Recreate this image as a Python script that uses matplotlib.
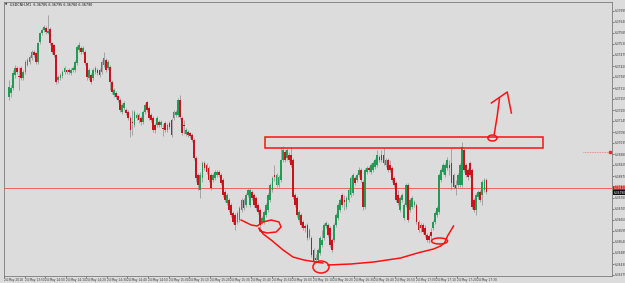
import matplotlib
matplotlib.use("Agg")
import matplotlib.pyplot as plt
from matplotlib.patches import Rectangle, Ellipse
import numpy as np

# === OHLC, USDCNH M1 ===
opens = [6.37265, 6.37285, 6.37310, 6.37375, 6.37410, 6.37370, 6.37410, 6.37360, 6.37390, 6.37425,
         6.37440, 6.37460, 6.37490, 6.37485, 6.37440, 6.37540, 6.37585, 6.37600, 6.37610, 6.37585,
         6.37605, 6.37535, 6.37525, 6.37475, 6.37350, 6.37360, 6.37370, 6.37390, 6.37400, 6.37400,
         6.37385, 6.37400, 6.37400, 6.37435, 6.37500, 6.37510, 6.37490, 6.37490, 6.37435, 6.37360,
         6.37375, 6.37360, 6.37390, 6.37400, 6.37400, 6.37390, 6.37425, 6.37450, 6.37410, 6.37415,
         6.37340, 6.37275, 6.37285, 6.37270, 6.37250, 6.37190, 6.37210, 6.37200, 6.37190, 6.37160,
         6.37140, 6.37125, 6.37160, 6.37175, 6.37160, 6.37140, 6.37190, 6.37240, 6.37210, 6.37175,
         6.37160, 6.37125, 6.37125, 6.37140, 6.37125, 6.37110, 6.37135, 6.37100, 6.37135, 6.37150,
         6.37160, 6.37175, 6.37175, 6.37250, 6.37160, 6.37125, 6.37080, 6.37090, 6.37085, 6.37075,
         6.37050, 6.36960, 6.36875, 6.36800, 6.36860, 6.36935, 6.36925, 6.36910, 6.36875, 6.36850,
         6.36860, 6.36875, 6.36890, 6.36875, 6.36850, 6.36790, 6.36735, 6.36750, 6.36725, 6.36685,
         6.36675, 6.36640, 6.36650, 6.36700, 6.36750, 6.36725, 6.36775, 6.36725, 6.36790, 6.36775,
         6.36760, 6.36725, 6.36700, 6.36640, 6.36640, 6.36675, 6.36700, 6.36750, 6.36800, 6.36875,
         6.36825, 6.36825, 6.36850, 6.36950, 6.36990, 6.36960, 6.36975, 6.36975, 6.36950, 6.36775,
         6.36760, 6.36650, 6.36675, 6.36640, 6.36620, 6.36625, 6.36565, 6.36560, 6.36500, 6.36460,
         6.36450, 6.36485, 6.36525, 6.36560, 6.36620, 6.36625, 6.36610, 6.36550, 6.36550, 6.36625,
         6.36660, 6.36700, 6.36775, 6.36750, 6.36715, 6.36750, 6.36775, 6.36785, 6.36860, 6.36850,
         6.36875, 6.36900, 6.36840, 6.36715, 6.36890, 6.36910, 6.36890, 6.36900, 6.36915, 6.36925,
         6.36965, 6.36975, 6.36975, 6.36925, 6.36950, 6.36925, 6.36910, 6.36860, 6.36835, 6.36775,
         6.36700, 6.36750, 6.36660, 6.36725, 6.36825, 6.36700, 6.36715, 6.36725, 6.36725, 6.36640,
         6.36625, 6.36625, 6.36610, 6.36575, 6.36570, 6.36590, 6.36610, 6.36640, 6.36675, 6.36690,
         6.36850, 6.36890, 6.36875, 6.36910, 6.36925, 6.36935, 6.36875, 6.36825, 6.36825, 6.36825,
         6.36825, 6.37000, 6.36925, 6.36900, 6.36935, 6.36900, 6.36750, 6.36700, 6.36765, 6.36790,
         6.36775, 6.36800, 6.36850]
highs = [6.37350, 6.37325, 6.37400, 6.37425, 6.37420, 6.37415, 6.37420, 6.37400, 6.37450, 6.37460,
         6.37475, 6.37500, 6.37500, 6.37490, 6.37540, 6.37590, 6.37610, 6.37625, 6.37620, 6.37675,
         6.37615, 6.37540, 6.37530, 6.37480, 6.37375, 6.37385, 6.37400, 6.37420, 6.37405, 6.37410,
         6.37410, 6.37420, 6.37450, 6.37525, 6.37540, 6.37520, 6.37520, 6.37500, 6.37440, 6.37410,
         6.37385, 6.37410, 6.37420, 6.37410, 6.37410, 6.37450, 6.37490, 6.37460, 6.37450, 6.37425,
         6.37350, 6.37310, 6.37295, 6.37275, 6.37260, 6.37235, 6.37245, 6.37210, 6.37200, 6.37170,
         6.37200, 6.37200, 6.37185, 6.37185, 6.37170, 6.37200, 6.37235, 6.37245, 6.37220, 6.37185,
         6.37170, 6.37135, 6.37170, 6.37150, 6.37150, 6.37130, 6.37145, 6.37135, 6.37145, 6.37160,
         6.37200, 6.37200, 6.37260, 6.37275, 6.37170, 6.37150, 6.37110, 6.37100, 6.37090, 6.37085,
         6.37060, 6.36970, 6.36885, 6.36890, 6.36945, 6.36945, 6.36935, 6.36920, 6.36885, 6.36885,
         6.36900, 6.36900, 6.36900, 6.36885, 6.36860, 6.36800, 6.36785, 6.36760, 6.36735, 6.36695,
         6.36685, 6.36695, 6.36720, 6.36760, 6.36760, 6.36785, 6.36810, 6.36810, 6.36800, 6.36785,
         6.36770, 6.36735, 6.36710, 6.36670, 6.36700, 6.36735, 6.36785, 6.36835, 6.36870, 6.36925,
         6.36885, 6.36875, 6.37015, 6.37020, 6.37000, 6.37010, 6.36990, 6.37015, 6.36960, 6.36785,
         6.36770, 6.36700, 6.36685, 6.36650, 6.36630, 6.36635, 6.36610, 6.36570, 6.36510, 6.36480,
         6.36510, 6.36570, 6.36600, 6.36635, 6.36645, 6.36635, 6.36620, 6.36560, 6.36635, 6.36685,
         6.36735, 6.36760, 6.36785, 6.36775, 6.36770, 6.36810, 6.36870, 6.36885, 6.36870, 6.36885,
         6.36915, 6.36910, 6.36850, 6.36910, 6.36920, 6.36920, 6.36935, 6.36945, 6.36960, 6.37000,
         6.36975, 6.37000, 6.37010, 6.36960, 6.36960, 6.36950, 6.36920, 6.36870, 6.36845, 6.36800,
         6.36770, 6.36785, 6.36735, 6.36835, 6.36835, 6.36760, 6.36770, 6.36750, 6.36735, 6.36650,
         6.36635, 6.36635, 6.36625, 6.36585, 6.36580, 6.36610, 6.36650, 6.36695, 6.36720, 6.36885,
         6.36910, 6.36935, 6.36935, 6.36965, 6.36950, 6.37010, 6.36885, 6.36850, 6.36885, 6.36935,
         6.37040, 6.37010, 6.36935, 6.36910, 6.36945, 6.36910, 6.36760, 6.36785, 6.36800, 6.36800,
         6.36850, 6.36860, 6.36860]
lows = [6.37250, 6.37265, 6.37300, 6.37360, 6.37380, 6.37300, 6.37350, 6.37350, 6.37380, 6.37420,
        6.37430, 6.37450, 6.37465, 6.37430, 6.37430, 6.37530, 6.37575, 6.37590, 6.37580, 6.37580,
        6.37525, 6.37480, 6.37465, 6.37330, 6.37335, 6.37350, 6.37360, 6.37380, 6.37380, 6.37380,
        6.37375, 6.37390, 6.37390, 6.37425, 6.37490, 6.37480, 6.37480, 6.37425, 6.37350, 6.37350,
        6.37330, 6.37350, 6.37380, 6.37375, 6.37365, 6.37380, 6.37415, 6.37390, 6.37400, 6.37300,
        6.37280, 6.37265, 6.37255, 6.37240, 6.37190, 6.37180, 6.37200, 6.37175, 6.37150, 6.37065,
        6.37075, 6.37115, 6.37150, 6.37135, 6.37125, 6.37130, 6.37180, 6.37190, 6.37150, 6.37140,
        6.37090, 6.37085, 6.37115, 6.37115, 6.37115, 6.37070, 6.37090, 6.37090, 6.37105, 6.37065,
        6.37150, 6.37165, 6.37165, 6.37155, 6.37075, 6.37080, 6.37070, 6.37065, 6.37060, 6.37040,
        6.36950, 6.36840, 6.36800, 6.36760, 6.36840, 6.36900, 6.36880, 6.36840, 6.36800, 6.36840,
        6.36850, 6.36865, 6.36865, 6.36825, 6.36765, 6.36740, 6.36725, 6.36690, 6.36665, 6.36630,
        6.36600, 6.36630, 6.36640, 6.36690, 6.36700, 6.36715, 6.36765, 6.36715, 6.36750, 6.36715,
        6.36700, 6.36680, 6.36600, 6.36630, 6.36630, 6.36665, 6.36690, 6.36740, 6.36790, 6.36845,
        6.36815, 6.36815, 6.36840, 6.36940, 6.36940, 6.36950, 6.36940, 6.36915, 6.36755, 6.36715,
        6.36665, 6.36640, 6.36615, 6.36600, 6.36590, 6.36550, 6.36555, 6.36465, 6.36430, 6.36435,
        6.36440, 6.36475, 6.36515, 6.36550, 6.36610, 6.36565, 6.36515, 6.36490, 6.36540, 6.36615,
        6.36650, 6.36690, 6.36715, 6.36700, 6.36705, 6.36740, 6.36765, 6.36775, 6.36825, 6.36840,
        6.36865, 6.36840, 6.36700, 6.36705, 6.36880, 6.36890, 6.36880, 6.36890, 6.36905, 6.36915,
        6.36940, 6.36940, 6.36925, 6.36915, 6.36890, 6.36890, 6.36840, 6.36815, 6.36740, 6.36725,
        6.36690, 6.36740, 6.36650, 6.36715, 6.36640, 6.36690, 6.36705, 6.36715, 6.36630, 6.36590,
        6.36590, 6.36580, 6.36565, 6.36540, 6.36535, 6.36550, 6.36600, 6.36630, 6.36665, 6.36680,
        6.36840, 6.36880, 6.36865, 6.36900, 6.36875, 6.36800, 6.36805, 6.36775, 6.36815, 6.36815,
        6.36815, 6.36890, 6.36865, 6.36850, 6.36865, 6.36705, 6.36690, 6.36675, 6.36755, 6.36740,
        6.36725, 6.36790, 6.36780]
closes = [6.37315, 6.37310, 6.37385, 6.37410, 6.37390, 6.37365, 6.37360, 6.37390, 6.37440, 6.37450,
          6.37465, 6.37490, 6.37475, 6.37440, 6.37535, 6.37585, 6.37600, 6.37615, 6.37590, 6.37595,
          6.37535, 6.37490, 6.37475, 6.37340, 6.37365, 6.37375, 6.37390, 6.37410, 6.37390, 6.37390,
          6.37400, 6.37410, 6.37440, 6.37515, 6.37525, 6.37490, 6.37510, 6.37435, 6.37365, 6.37400,
          6.37340, 6.37400, 6.37410, 6.37385, 6.37375, 6.37440, 6.37460, 6.37400, 6.37440, 6.37340,
          6.37290, 6.37300, 6.37265, 6.37250, 6.37200, 6.37225, 6.37235, 6.37185, 6.37160, 6.37100,
          6.37135, 6.37190, 6.37175, 6.37150, 6.37140, 6.37190, 6.37225, 6.37200, 6.37160, 6.37150,
          6.37100, 6.37100, 6.37160, 6.37125, 6.37140, 6.37105, 6.37100, 6.37125, 6.37115, 6.37075,
          6.37190, 6.37190, 6.37250, 6.37165, 6.37085, 6.37120, 6.37100, 6.37075, 6.37070, 6.37050,
          6.36960, 6.36860, 6.36825, 6.36875, 6.36935, 6.36910, 6.36890, 6.36850, 6.36810, 6.36875,
          6.36890, 6.36890, 6.36875, 6.36835, 6.36775, 6.36750, 6.36775, 6.36700, 6.36675, 6.36640,
          6.36625, 6.36685, 6.36710, 6.36750, 6.36710, 6.36775, 6.36800, 6.36800, 6.36760, 6.36725,
          6.36710, 6.36690, 6.36625, 6.36660, 6.36690, 6.36725, 6.36775, 6.36825, 6.36860, 6.36865,
          6.36875, 6.36865, 6.36950, 6.37000, 6.36950, 6.37000, 6.36950, 6.36925, 6.36765, 6.36725,
          6.36675, 6.36690, 6.36625, 6.36610, 6.36610, 6.36560, 6.36600, 6.36475, 6.36440, 6.36450,
          6.36500, 6.36560, 6.36550, 6.36625, 6.36635, 6.36575, 6.36525, 6.36500, 6.36625, 6.36675,
          6.36725, 6.36750, 6.36725, 6.36740, 6.36760, 6.36800, 6.36860, 6.36875, 6.36835, 6.36875,
          6.36900, 6.36850, 6.36715, 6.36900, 6.36910, 6.36900, 6.36925, 6.36935, 6.36950, 6.36975,
          6.36950, 6.36950, 6.36935, 6.36950, 6.36900, 6.36900, 6.36850, 6.36825, 6.36750, 6.36735,
          6.36760, 6.36775, 6.36725, 6.36825, 6.36650, 6.36750, 6.36760, 6.36740, 6.36640, 6.36600,
          6.36610, 6.36590, 6.36575, 6.36550, 6.36550, 6.36570, 6.36640, 6.36685, 6.36710, 6.36875,
          6.36900, 6.36925, 6.36925, 6.36950, 6.36910, 6.36835, 6.36815, 6.36810, 6.36875, 6.36925,
          6.37015, 6.36900, 6.36875, 6.36865, 6.36875, 6.36715, 6.36700, 6.36775, 6.36790, 6.36750,
          6.36840, 6.36850, 6.36790]

price_ticks = [6.37695, 6.37640, 6.37585, 6.37530, 6.37475, 6.37420, 6.37365, 6.37310, 6.37255,
               6.37200, 6.37145, 6.37090, 6.37035, 6.36980, 6.36925, 6.36870, 6.36815, 6.36760,
               6.36705, 6.36650, 6.36595, 6.36540, 6.36485, 6.36430, 6.36375]
time_labels = ["24 May 2018", "24 May 13:50", "24 May 14:00", "24 May 14:10", "24 May 14:20",
               "24 May 14:30", "24 May 14:40", "24 May 14:50", "24 May 15:00", "24 May 15:10",
               "24 May 15:20", "24 May 15:30", "24 May 15:40", "24 May 15:50", "24 May 16:00",
               "24 May 16:10", "24 May 16:20", "24 May 16:30", "24 May 16:40", "24 May 16:50",
               "24 May 17:00", "24 May 17:10", "24 May 17:20", "24 May 17:30"]
title_text = "USDCNH,M1  6.36785 6.36795 6.36780 6.36790"

hline_level = 6.36810     # red horizontal line
alert_level = 6.36990     # dotted marker at the right

# hand-drawn markup, (bar index, price)
box_x, box_y, box_w, box_h = 124.5, 6.37009, 135.1, 0.00054
arrow_shaft = [(235.8, 6.37080), (237.3, 6.37175), (238.3, 6.37255)]
arrow_head = [(234.4, 6.37235), (242.1, 6.37290), (244.1, 6.37185)]
arrow_dot = (234.9, 6.37060, 4.4, 0.00030)
curve_a = [(112.8, 6.36650), (117.7, 6.36625), (120.6, 6.36620), (123.5, 6.36640), (127.4, 6.36650),
           (131.2, 6.36640), (132.2, 6.36615), (129.8, 6.36590), (125.4, 6.36585), (122.0, 6.36595),
           (121.5, 6.36610), (123.5, 6.36580), (127.4, 6.36550), (133.2, 6.36500), (138.0, 6.36465),
           (143.3, 6.36450), (149.2, 6.36440), (152.5, 6.36435)]
curve_b = [(155.0, 6.36425), (166.1, 6.36430), (177.2, 6.36440), (190.3, 6.36460), (198.5, 6.36485),
           (206.3, 6.36505), (209.7, 6.36520), (211.6, 6.36535), (213.1, 6.36570), (216.0, 6.36620)]
ring_low = (151.6, 6.36415, 7.8, 0.00060)
ring_right = (209.2, 6.36545, 7.8, 0.00030)

BG = '#dcdcdc'
UP = '#239b56'
DOWN = '#c8141a'
MARK = '#ff1010'
FS = 2.05

fig = plt.figure(figsize=(6.25, 2.83), dpi=100, facecolor=BG)
ax = fig.add_axes([4 / 625, 7 / 283, 608 / 625, 274 / 283], facecolor=BG)

o = np.array(opens)
h = np.array(highs)
l = np.array(lows)
c = np.array(closes)
x = np.arange(len(o))
up = c >= o

# wicks then bodies
ax.vlines(x, l, h, color='#7a7a7a', lw=0.4, zorder=2)
ax.bar(x[up], np.maximum(c - o, 0.00002)[up], bottom=o[up], width=0.85, color=UP, zorder=3)
ax.bar(x[~up], (c - o)[~up], bottom=o[~up], width=0.85, color=DOWN, zorder=3)

ax.set_xlim(-1.45, 293)
ax.set_ylim(6.36370, 6.37740)

# price lines
ax.axhline(hline_level, color='#ee6262', lw=0.7, zorder=1)
ax.plot([279, 292], [alert_level, alert_level], color='#f07070', lw=0.6, ls=(0, (1, 1)))
ax.plot([292], [alert_level], marker='s', ms=1.6, color='#ff2020', clip_on=False)

# markup
ax.add_patch(Rectangle((box_x, box_y), box_w, box_h, fill=False, ec=MARK, lw=1.1, zorder=4))
ax.plot(*zip(*arrow_shaft), color=MARK, lw=1.1, zorder=4)
ax.plot(*zip(*arrow_head), color=MARK, lw=1.1, zorder=4)
ax.plot(*zip(*curve_a), color=MARK, lw=1.1, zorder=4)
ax.plot(*zip(*curve_b), color=MARK, lw=1.1, zorder=4)
for cx, cy, w, hh in (arrow_dot, ring_low, ring_right):
    ax.add_patch(Ellipse((cx, cy), w, hh, fill=False, ec=MARK, lw=1.1, zorder=4))

# axes, MT4 style
ax.yaxis.tick_right()
ax.set_yticks(price_ticks)
ax.set_yticklabels(['%.5f' % p for p in price_ticks], fontsize=FS, color='#222222')
tick_pos = np.arange(len(time_labels)) * 10 - 2.4
ax.set_xticks(tick_pos)
ax.set_xticklabels(time_labels, fontsize=FS, color='#222222', ha='left')
ax.tick_params(axis='y', length=1.2, width=0.4, pad=0.5, colors='#333333')
ax.tick_params(axis='x', length=1.2, width=0.4, pad=0.4, colors='#333333')
for s in ax.spines.values():
    s.set_color('#7a7a7a')
    s.set_linewidth(0.6)

# price tags on the scale
ax.text(1.003, hline_level, '%.5f' % hline_level, transform=ax.get_yaxis_transform(),
        fontsize=FS, color='white', va='center', ha='left',
        bbox=dict(boxstyle='square,pad=0.12', fc='#e01010', ec='none'), clip_on=False)
ax.text(1.003, closes[-1] - 0.00004, '%.5f' % closes[-1], transform=ax.get_yaxis_transform(),
        fontsize=FS, color='white', va='center', ha='left',
        bbox=dict(boxstyle='square,pad=0.12', fc='#101010', ec='none'), clip_on=False)

ax.text(0.010, 0.996, title_text, transform=ax.transAxes, fontsize=2.4, va='top', ha='left',
        color='#111111')
ax.text(0.002, 0.996, '\u25bc', transform=ax.transAxes, fontsize=2.2, va='top', ha='left',
        color='#333333')

fig.savefig('out.png', dpi=100, facecolor=BG)
